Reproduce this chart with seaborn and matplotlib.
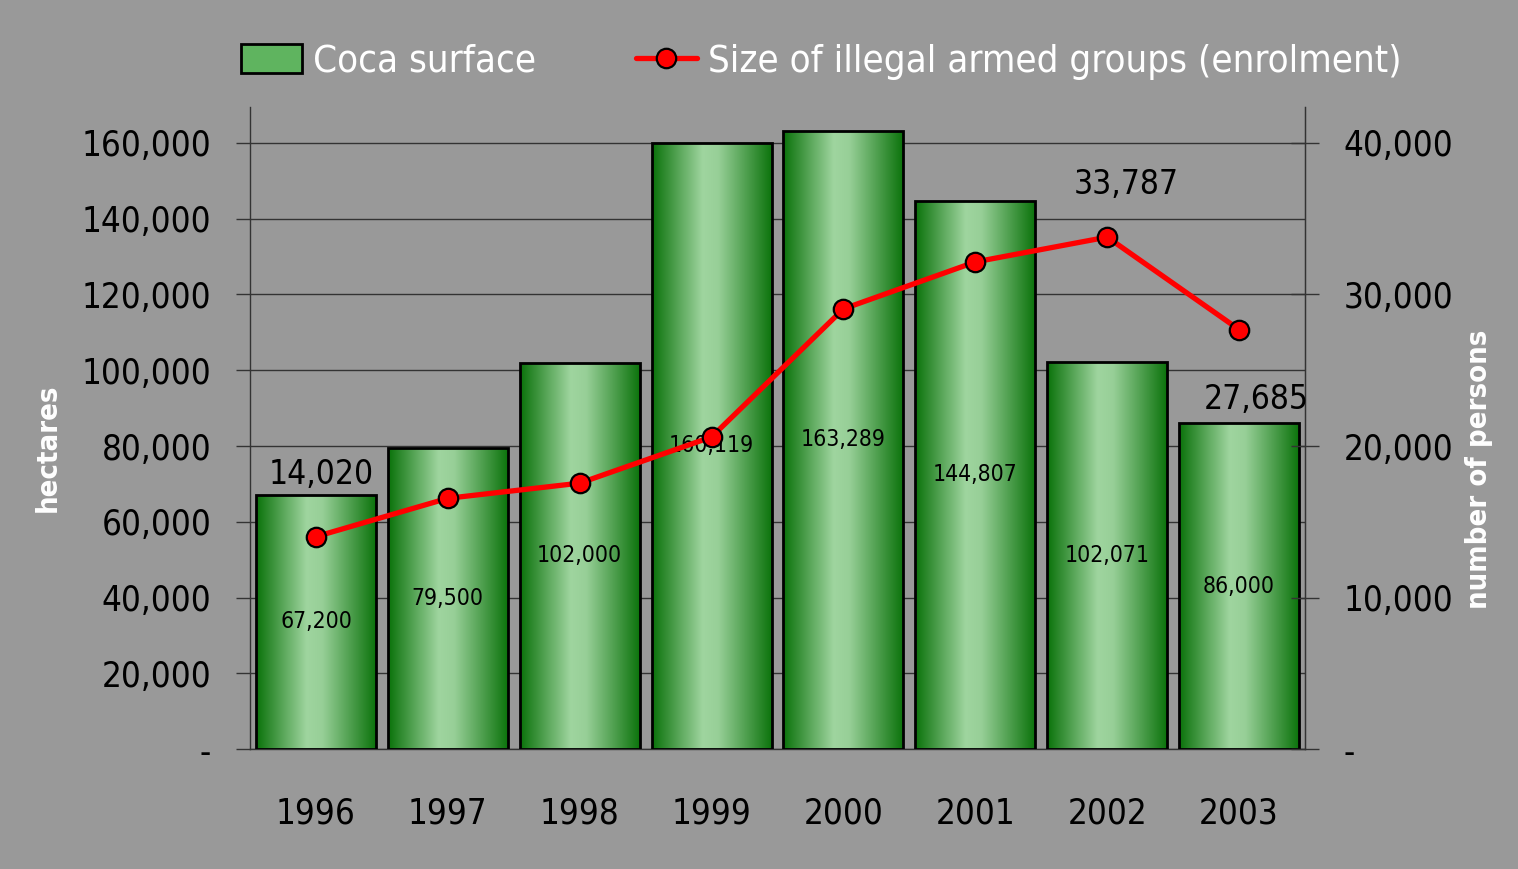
import numpy as np
import pandas as pd
import matplotlib
matplotlib.use("Agg")
import matplotlib.pyplot as plt
import seaborn as sns
from matplotlib.colors import LinearSegmentedColormap
from matplotlib.patches import Patch
from matplotlib.lines import Line2D

years = ["1996", "1997", "1998", "1999", "2000", "2001", "2002", "2003"]
coca_surface = [67200, 79500, 102000, 160119, 163289, 144807, 102071, 86000]
armed_groups = [14020, 16550, 17550, 20600, 29050, 32150, 33787, 27685]
labelled_points = {0: "14,020", 6: "33,787", 7: "27,685"}

BG = "#999999"
sns.set_style("white", {"axes.facecolor": BG, "figure.facecolor": BG})
plt.rcParams["font.family"] = ["DejaVu Sans"]
plt.rcParams["font.stretch"] = "condensed"
plt.rcParams["text.color"] = "black"
plt.rcParams["xtick.color"] = "black"
plt.rcParams["ytick.color"] = "black"

df = pd.DataFrame({"year": years, "coca": coca_surface, "groups": armed_groups})

fig = plt.figure(figsize=(15.18, 8.69), dpi=100)
ax = fig.add_axes([0.1647, 0.138, 0.695, 0.7389])
ax.set_facecolor(BG)

sns.barplot(data=df, x="year", y="coca", ax=ax, color="#4fa64f", width=0.91,
            edgecolor="black", linewidth=2, zorder=2)

# green gradient inside the bars
green = LinearSegmentedColormap.from_list(
    "g", [(0, "#0a720a"), (0.42, "#9fd59f"), (0.55, "#97cf97"), (1, "#0a720a")])
grad = np.linspace(0, 1, 256).reshape(1, -1)
for bar in ax.patches:
    x0, y0 = bar.get_x(), bar.get_y()
    w, h = bar.get_width(), bar.get_height()
    im = ax.imshow(grad, cmap=green, aspect="auto", extent=(x0, x0 + w, y0, y0 + h),
                   zorder=2.5, interpolation="bilinear")
    im.set_clip_path(bar)
    bar.set_facecolor("none")
    bar.set_zorder(3)

ax.bar_label(ax.containers[0], labels=[f"{v:,}" for v in coca_surface],
             label_type="center", fontsize=16.5, color="black", zorder=4)

ax.set_xlim(-0.5, 7.5)
ax.set_ylim(0, 169500)
yt = np.arange(0, 160001, 20000)
ax.set_yticks(yt)
ax.set_yticklabels(["-"] + [f"{v:,}" for v in yt[1:]])
ax.yaxis.grid(True, color="#333333", linewidth=1)
ax.set_axisbelow(True)
ax.tick_params(axis="y", direction="out", length=10, width=1, color="#333333",
               labelsize=25, pad=18, labelcolor="black")

ax.set_xticks(np.arange(-0.5, 8, 1))
ax.set_xticklabels([])
ax.set_xticks(np.arange(8), minor=True)
ax.set_xticklabels(years, minor=True)
ax.tick_params(axis="x", which="major", direction="out", length=11, width=1,
               color="#333333")
ax.tick_params(axis="x", which="minor", length=0, labelsize=25, pad=34,
               labelcolor="black")
ax.set_xlabel("")
ax.set_ylabel("hectares", color="white", fontsize=21, fontweight="bold")
ax.yaxis.set_label_coords(-0.178, 0.47)

for side in ["left", "right", "bottom"]:
    ax.spines[side].set_color("#333333")
    ax.spines[side].set_linewidth(1)
ax.spines["top"].set_visible(False)

ax2 = ax.twinx()
sns.lineplot(x=np.arange(len(years)), y=armed_groups, ax=ax2, color="#ff0000",
             linewidth=3.8, marker="o", markersize=14, markerfacecolor="#ff0000",
             markeredgecolor="black", markeredgewidth=1.6, zorder=5)
ax2.set_ylim(0, 169500 / 4)
yt2 = np.arange(0, 40001, 10000)
ax2.set_yticks(yt2)
ax2.set_yticklabels(["-"] + [f"{v:,}" for v in yt2[1:]])
ax2.tick_params(axis="y", direction="inout", length=20, width=1, color="#333333",
                labelsize=25, pad=18, labelcolor="black")
ax2.set_ylabel("number of persons", color="white", fontsize=21, fontweight="bold")
ax2.yaxis.set_label_coords(1.152, 0.435)
ax2.spines["top"].set_visible(False)
ax2.spines["right"].set_color("#333333")
ax2.spines["left"].set_visible(False)
ax2.spines["bottom"].set_visible(False)

offsets = {0: (4, 45), 6: (14, 38), 7: (12, -50)}
for i, txt in labelled_points.items():
    ax2.annotate(txt, (i, armed_groups[i]), xytext=offsets[i], textcoords="offset points",
                 ha="center", va="center", fontsize=24, color="black", zorder=6)

handles = [
    Patch(facecolor="#5fb45f", edgecolor="black", linewidth=2),
    Line2D([0], [0], color="#ff0000", linewidth=3.8, marker="o", markersize=14,
           markerfacecolor="#ff0000", markeredgecolor="black", markeredgewidth=1.6),
]
fig.legend(handles, ["Coca surface", "Size of illegal armed groups (enrolment)"],
           loc="center", bbox_to_anchor=(0.541, 0.929), ncol=2, frameon=False,
           fontsize=27.5, labelcolor="white", handlelength=1.6, handleheight=0.8,
           handletextpad=0.3, columnspacing=2.6)

fig.savefig("out.png", dpi=100, facecolor=BG)
